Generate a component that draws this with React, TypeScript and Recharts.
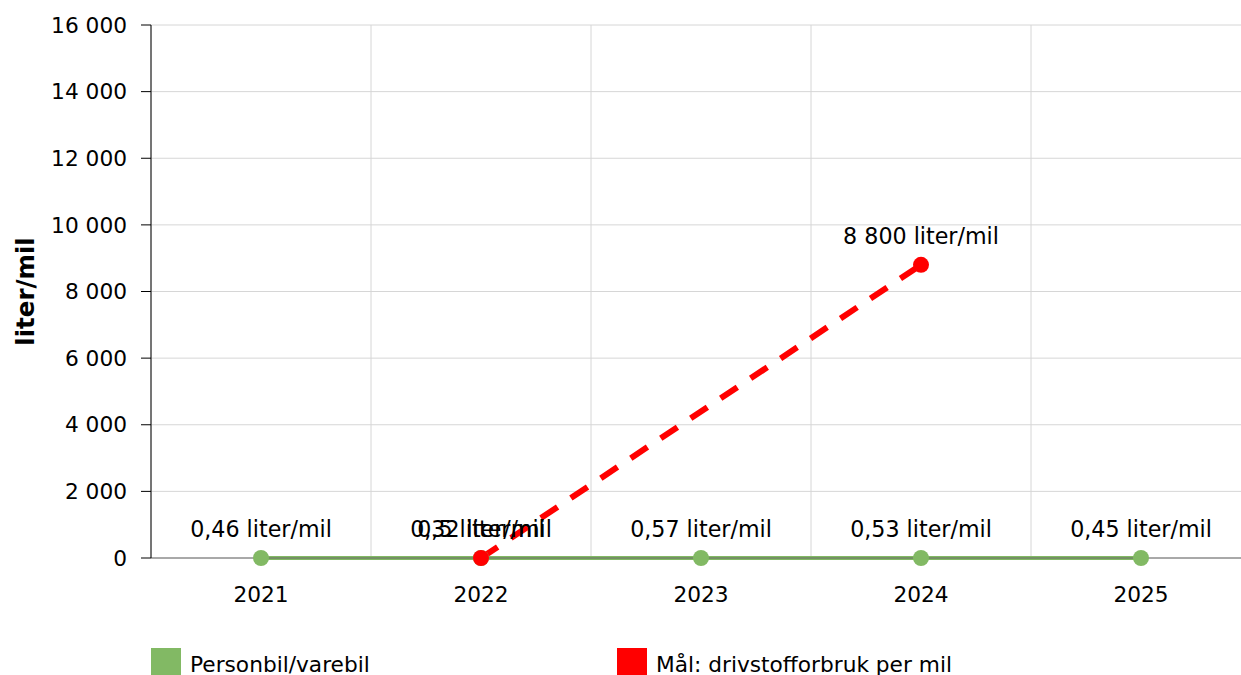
import React from "react";
import { LineChart, Line, XAxis, YAxis, CartesianGrid, LabelList } from "recharts";

const years = [2021, 2022, 2023, 2024, 2025];
const personbil = [0.46, 0.32, 0.57, 0.53, 0.45];
const maal: (number | null)[] = [null, 0.5, null, 8800, null];
const yTicks = [0, 2000, 4000, 6000, 8000, 10000, 12000, 14000, 16000];
const gridTicks = [2021.5, 2022.5, 2023.5, 2024.5];
const seriesNames = ["Personbil/varebil", "Mål: drivstofforbruk per mil"];
const seriesColors = ["#82b964", "#ff0000"];

const data = years.map((y, i) => ({ year: y, personbil: personbil[i], maal: maal[i] }));

const FONT = "'DejaVu Sans', Verdana, sans-serif";

function groupThousands(n: number): string {
  const s = Math.round(n).toString();
  return s.replace(/\B(?=(\d{3})+(?!\d))/g, " ");
}
function fmtValue(v: any): string {
  if (v === null || v === undefined) return "";
  const n = Number(v);
  if (Number.isInteger(n)) return groupThousands(n) + " liter/mil";
  return String(n).replace(".", ",") + " liter/mil";
}

const YLabel = (props: any) => {
  const vb = props.viewBox || {};
  const cx = 25;
  const cy = vb.y + vb.height / 2;
  return (
    <text x={cx} y={cy} transform={`rotate(-90 ${cx} ${cy})`} textAnchor="middle" dominantBaseline="central"
      fontFamily={FONT} fontSize={24.5} fontWeight="bold" fill="#000">
      liter/mil
    </text>
  );
};

export default function App() {
  return (
    <div style={{ position: "absolute", left: 0, top: 0, width: 1241, height: 675, overflow: "hidden", fontFamily: FONT, background: "#fff" }}>
      <LineChart width={1251} height={675} data={data} margin={{ top: 25, right: 0, left: 0, bottom: 57 }}>
        <CartesianGrid xAxisId="grid" stroke="#d6d6d6" strokeWidth={1} vertical={true} horizontal={true} />
        <XAxis
          dataKey="year"
          type="number"
          domain={[2020.5, 2025.5]}
          ticks={years}
          tickLine={false}
          tickSize={0}
          tickMargin={29}
          height={60}
          stroke="#666"
          tick={{ fill: "#000", fontSize: 21.7, fontFamily: FONT }}
          interval={0}
        />
        <XAxis xAxisId="grid" dataKey="year" type="number" domain={[2020.5, 2025.5]} ticks={gridTicks} hide />
        <YAxis
          width={151}
          domain={[0, 16000]}
          ticks={yTicks}
          tickFormatter={(v: number) => groupThousands(v)}
          tickSize={10}
          tickMargin={14}
          stroke="#000"
          tick={{ fill: "#000", fontSize: 21.7, fontFamily: FONT }}
          label={<YLabel />}
        />
        <Line
          dataKey="personbil"
          stroke={seriesColors[0]}
          strokeWidth={4}
          dot={{ r: 8, fill: seriesColors[0], stroke: "none" }}
          isAnimationActive={false}
        >
          <LabelList dataKey="personbil" position="top" offset={21} formatter={fmtValue}
            style={{ fill: "#000", fontSize: 22.2, fontFamily: FONT }} />
        </Line>
        <Line
          dataKey="maal"
          stroke={seriesColors[1]}
          strokeWidth={6}
          strokeDasharray="20 16"
          connectNulls
          dot={{ r: 8, fill: seriesColors[1], stroke: "none", strokeDasharray: "0" }}
          isAnimationActive={false}
        >
          <LabelList dataKey="maal" position="top" offset={21} formatter={fmtValue}
            style={{ fill: "#000", fontSize: 22.2, fontFamily: FONT }} />
        </Line>
      </LineChart>
      {seriesNames.map((name, i) => (
        <div key={name} style={{ position: "absolute", left: 151 + i * 466, top: 647, display: "flex", alignItems: "center", height: 30 }}>
          <div style={{ width: 30, height: 29, background: seriesColors[i], marginRight: 9 }} />
          <span style={{ fontSize: 21.7, color: "#000", fontFamily: FONT, position: "relative", top: 2 }}>{name}</span>
        </div>
      ))}
    </div>
  );
}
